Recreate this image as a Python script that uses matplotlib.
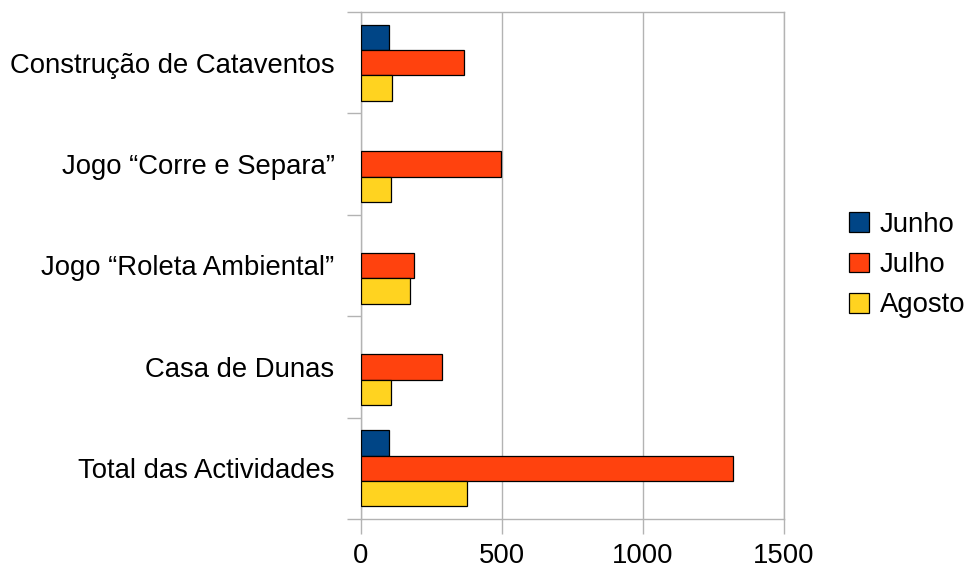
import matplotlib
matplotlib.use("Agg")
import matplotlib.pyplot as plt
import numpy as np
from matplotlib.patches import Patch

categories = ["Construção de Cataventos", "Jogo “Corre e Separa”",
              "Jogo “Roleta Ambiental”", "Casa de Dunas", "Total das Actividades"]
series_names = ["Junho", "Julho", "Agosto"]
junho = [99, 0, 0, 0, 100]
julho = [367, 495, 188, 286, 1318]
agosto = [110, 108, 172, 108, 377]
colors = ["#004586", "#ff420e", "#ffd320"]
xticks = [0, 500, 1000, 1500]

plt.rcParams['font.family'] = ['Liberation Sans', 'DejaVu Sans']

fig = plt.figure(figsize=(9.71, 5.72), dpi=100)
ax = fig.add_axes([361/971, 1-519/572, (784-361)/971, (519-12)/572])

y = np.arange(len(categories))
h = 0.25
for i, (vals, c) in enumerate(zip([junho, julho, agosto], colors)):
    vals = np.array(vals, dtype=float)
    mask = vals > 0
    ax.barh(y[mask] + (i - 1) * h, vals[mask], height=h, color=c,
            edgecolor="black", linewidth=0.9, zorder=3)

ax.set_xlim(0, 1500)
ax.set_ylim(len(categories) - 0.5, -0.5)
ax.set_xticks(xticks)
ax.set_xticklabels([str(t) for t in xticks])
ax.set_yticks(y)
ax.set_yticklabels(categories)
ax.set_yticks(np.arange(-0.5, len(categories)), minor=True)

grey = "#b3b3b3"
ax.grid(axis="x", color=grey, linewidth=1, zorder=0)
for s in ax.spines.values():
    s.set_color(grey)
    s.set_linewidth(1)
fs = 19.8
ax.tick_params(axis="y", which="major", length=0, pad=19, labelsize=fs)
ax.tick_params(axis="y", which="minor", length=10, color=grey, width=1)
ax.tick_params(axis="x", which="major", length=11, color=grey, width=1, pad=6, labelsize=fs)

handles = [Patch(facecolor=c, edgecolor="black", linewidth=0.9, label=n)
           for c, n in zip(colors, series_names)]
fig.legend(handles=handles, loc="center left", bbox_to_anchor=(849/971, 1-265/572),
           frameon=False, fontsize=fs, handlelength=0.73, handleheight=0.73,
           handletextpad=0.4, labelspacing=0.52, borderaxespad=0, borderpad=0)

fig.savefig("out.png", dpi=100)
